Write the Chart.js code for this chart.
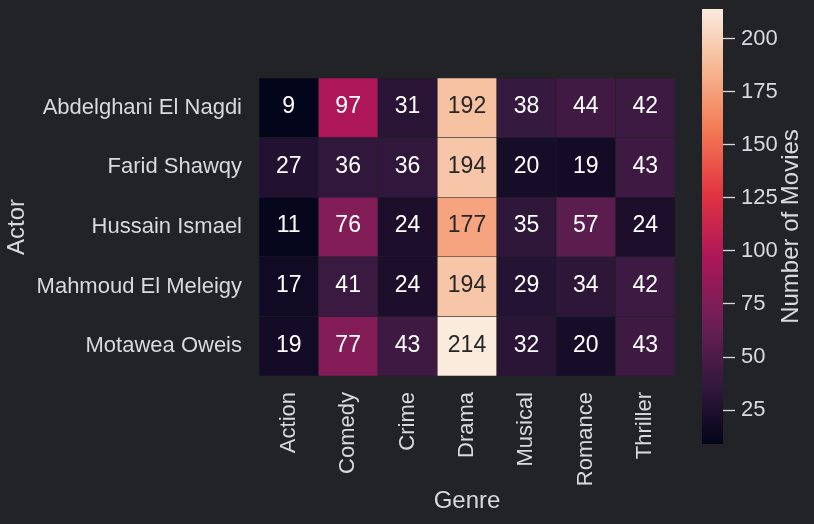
<!DOCTYPE html>
<html><head><meta charset="utf-8">
<script src="https://cdn.jsdelivr.net/npm/chart.js@4/dist/chart.umd.min.js"></script>
<style>
html,body{margin:0;padding:0;background:#212327;}
#wrap{position:relative;width:814px;height:524px;background:#212327;overflow:hidden;}
#main{position:absolute;left:0;top:0;}
#cb{position:absolute;left:690px;top:0;}
</style></head><body>
<div id="wrap"><canvas id="main" width="690" height="524"></canvas><canvas id="cb" width="124" height="524"></canvas></div>
<script>
// ---- data ----
const genres = ['Action','Comedy','Crime','Drama','Musical','Romance','Thriller'];
const actors = ['Abdelghani El Nagdi','Farid Shawqy','Hussain Ismael','Mahmoud El Meleigy','Motawea Oweis'];
const abdelghaniElNagdi = [9, 97, 31, 192, 38, 44, 42];
const faridShawqy       = [27, 36, 36, 194, 20, 19, 43];
const hussainIsmael     = [11, 76, 24, 177, 35, 57, 24];
const mahmoudElMeleigy  = [17, 41, 24, 194, 29, 34, 42];
const motaweaOweis      = [19, 77, 43, 214, 32, 20, 43];
const colorbarTicks = [25, 50, 75, 100, 125, 150, 175, 200];
const xTitle = 'Genre', yTitle = 'Actor', cbTitle = 'Number of Movies';

const rows = [abdelghaniElNagdi, faridShawqy, hussainIsmael, mahmoudElMeleigy, motaweaOweis];
const all = rows.flat();
const vmin = Math.min(...all), vmax = Math.max(...all);

// rocket colormap
const rocket = [[0,'#03051a'],[1/7,'#35193e'],[2/7,'#701f57'],[3/7,'#ad1759'],[4/7,'#e13342'],[5/7,'#f37651'],[6/7,'#f6b48f'],[1,'#faebdd']];
function hex2rgb(h){return [parseInt(h.slice(1,3),16),parseInt(h.slice(3,5),16),parseInt(h.slice(5,7),16)];}
function cmap(t){
  t=Math.max(0,Math.min(1,t));
  for(let i=1;i<rocket.length;i++){
    if(t<=rocket[i][0]){
      const [t0,h0]=rocket[i-1],[t1,h1]=rocket[i];
      const f=(t-t0)/(t1-t0), a=hex2rgb(h0), b=hex2rgb(h1);
      return 'rgb('+a.map((c,k)=>Math.round(c+(b[k]-c)*f)).join(',')+')';
    }
  }
  return rocket[rocket.length-1][1];
}
function lum(rgbStr){
  const m=rgbStr.match(/\d+/g).map(Number).map(c=>{c/=255;return c<=0.03928?c/12.92:Math.pow((c+0.055)/1.055,2.4);});
  return 0.2126*m[0]+0.7152*m[1]+0.0722*m[2];
}

const FONT = '"Liberation Sans", Arial, Helvetica, sans-serif';
const TXT = '#d9dadc';
Chart.defaults.font.family = FONT;
Chart.defaults.color = TXT;

const annot = {
  id:'annot',
  afterDatasetsDraw(chart){
    const ctx=chart.ctx; ctx.save();
    ctx.font='23px '+FONT; ctx.textAlign='center'; ctx.textBaseline='middle';
    chart.data.datasets.forEach((ds,di)=>{
      chart.getDatasetMeta(di).data.forEach((el,j)=>{
        const p=el.getProps(['x','y','base'],true);
        ctx.fillStyle = lum(ds.backgroundColor[j])>0.408 ? '#262626' : '#ffffff';
        ctx.fillText(String(ds.counts[j]), p.x, (p.y+p.base)/2 - 1);
      });
    });
    ctx.restore();
  }
};

new Chart(document.getElementById('main'), {
  type:'bar',
  data:{
    labels: genres,
    datasets: rows.map((vals,i)=>({
      label: actors[i],
      data: vals.map(()=>1),
      counts: vals,
      backgroundColor: vals.map(v=>cmap((v-vmin)/(vmax-vmin))),
      borderWidth: 0.6,
      borderColor: 'rgba(33,35,39,0.3)',
      borderSkipped: false,
      barPercentage: 1, categoryPercentage: 1
    }))
  },
  options:{
    responsive:false, animation:false,
    layout:{padding:{left:0, top:78, right:15, bottom:0}},
    plugins:{legend:{display:false}, tooltip:{enabled:false}},
    scales:{
      x:{
        stacked:true,
        grid:{display:false, drawTicks:false}, border:{display:false},
        ticks:{autoSkip:false, maxRotation:90, minRotation:90, padding:16, font:{size:22}, color:TXT},
        title:{display:true, text:xTitle, font:{size:24}, color:TXT, padding:{top:0,bottom:8}},
        afterFit(s){ s.height = 148; }
      },
      y:{
        type:'linear', stacked:true, min:0, max:rows.length, reverse:true,
        grid:{display:false, drawTicks:false}, border:{display:false},
        afterBuildTicks(s){ s.ticks = actors.map((a,i)=>({value:i+0.5})); },
        ticks:{autoSkip:false, padding:17, font:{size:22}, color:TXT, callback:(v)=>actors[Math.floor(v)]},
        title:{display:true, text:yTitle, font:{size:24}, color:TXT, padding:{top:3,bottom:0}},
        afterFit(s){ s.width = 259; }
      }
    }
  },
  plugins:[annot]
});

const cbTitlePlugin = {
  id:'cbTitle',
  afterDraw(chart){
    const ctx=chart.ctx, a=chart.chartArea; ctx.save();
    ctx.font='24px '+FONT; ctx.fillStyle=TXT; ctx.textAlign='center'; ctx.textBaseline='middle';
    ctx.translate(101.5,(a.top+a.bottom)/2); ctx.rotate(-Math.PI/2);
    ctx.fillText(cbTitle,0,0); ctx.restore();
  }
};

new Chart(document.getElementById('cb'), {
  type:'bar',
  data:{labels:[''], datasets:[{
    data:[[vmin,vmax]],
    backgroundColor:(c)=>{
      const ch=c.chart, s=ch.scales.y;
      if(!s || !ch.chartArea) return cmap(0.5);
      const g=ch.ctx.createLinearGradient(0,s.getPixelForValue(vmin),0,s.getPixelForValue(vmax));
      for(let i=0;i<=40;i++){ g.addColorStop(i/40, cmap(i/40)); }
      return g;
    },
    borderWidth:0, barPercentage:1, categoryPercentage:1
  }]},
  options:{
    responsive:false, animation:false,
    layout:{padding:{left:12, top:9, bottom:80, right:0}},
    plugins:{legend:{display:false}, tooltip:{enabled:false}},
    scales:{
      x:{display:false},
      y:{
        position:'right', min:vmin, max:vmax,
        afterBuildTicks(s){ s.ticks = colorbarTicks.map(v=>({value:v})); },
        afterFit(s){ s.width = 91; s.paddingTop = 0; s.paddingBottom = 0; },
        grid:{drawOnChartArea:false, drawTicks:true, tickLength:12, tickColor:TXT, tickWidth:1.3},
        border:{display:false},
        ticks:{padding:6, font:{size:22}, color:TXT, autoSkip:false}
      }
    }
  },
  plugins:[cbTitlePlugin]
});
</script>
</body></html>
